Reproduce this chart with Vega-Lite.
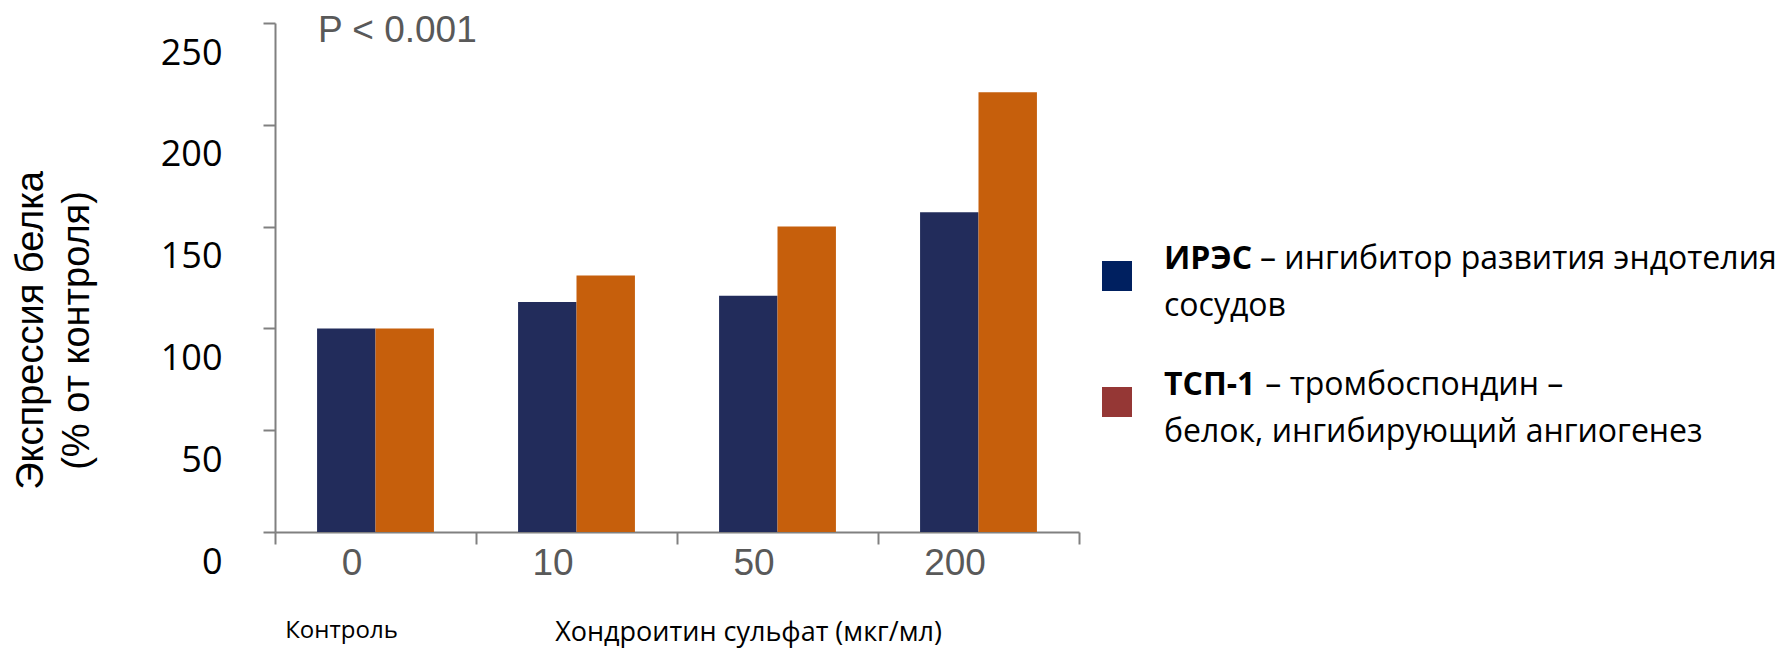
{
  "$schema": "https://vega.github.io/schema/vega-lite/v6.json",
  "width": 804,
  "height": 509,
  "autosize": {"type": "none"},
  "padding": {"left": 275, "top": 23, "right": 702, "bottom": 118},
  "background": "white",
  "config": {
    "view": {"stroke": null},
    "axis": {"grid": false},
    "font": "Liberation Sans",
    "legend": {"symbolBaseFillColor": "transparent", "symbolBaseStrokeColor": "transparent"},
    "style": {"guide-label": {"lineHeight": 47}}
  },
  "title": {
    "text": "P < 0.001",
    "anchor": "start",
    "frame": "group",
    "orient": "top",
    "font": "Liberation Sans",
    "fontSize": 37,
    "fontWeight": "normal",
    "color": "#595959",
    "baseline": "alphabetic",
    "offset": -57,
    "dx": 43
  },
  "data": {
    "values": [
      {"dose": "0", "series": "ИРЭС", "desc": "– ингибитор развития эндотелия|сосудов", "value": 100},
      {"dose": "0", "series": "ТСП-1", "desc": "– тромбоспондин –|белок, ингибирующий ангиогенез", "value": 100},
      {"dose": "10", "series": "ИРЭС", "desc": "– ингибитор развития эндотелия|сосудов", "value": 113},
      {"dose": "10", "series": "ТСП-1", "desc": "– тромбоспондин –|белок, ингибирующий ангиогенез", "value": 126},
      {"dose": "50", "series": "ИРЭС", "desc": "– ингибитор развития эндотелия|сосудов", "value": 116},
      {"dose": "50", "series": "ТСП-1", "desc": "– тромбоспондин –|белок, ингибирующий ангиогенез", "value": 150},
      {"dose": "200", "series": "ИРЭС", "desc": "– ингибитор развития эндотелия|сосудов", "value": 157},
      {"dose": "200", "series": "ТСП-1", "desc": "– тромбоспондин –|белок, ингибирующий ангиогенез", "value": 216}
    ]
  },
  "resolve": {"scale": {"color": "independent"}},
  "layer": [
    {
      "mark": {"type": "bar"},
      "encoding": {
        "x": {
          "field": "dose",
          "type": "nominal",
          "sort": ["0", "10", "50", "200"],
          "scale": {"paddingInner": 0, "paddingOuter": 0},
          "axis": {
            "title": "Хондроитин сульфат (мкг/мл)",
            "titleFont": "Open Sans",
            "titleFontSize": 27,
            "titleFontWeight": "normal",
            "titleColor": "black",
            "titleX": 473,
            "titleY": 100,
            "titleBaseline": "middle",
            "titleAlign": "center",
            "labelFont": "Liberation Sans",
            "labelFontSize": 37,
            "labelColor": "#595959",
            "labelAngle": 0,
            "labelOffset": -24,
            "labelPadding": 1,
            "tickBand": "extent",
            "tickSize": 12,
            "tickWidth": 2,
            "tickColor": "#808080",
            "domainColor": "#808080",
            "domainWidth": 2
          }
        },
        "xOffset": {
          "field": "series",
          "type": "nominal",
          "sort": ["ИРЭС", "ТСП-1"],
          "scale": {"paddingInner": 0, "paddingOuter": 0.72}
        },
        "y": {
          "field": "value",
          "type": "quantitative",
          "scale": {"domain": [0, 250], "nice": false},
          "axis": {
            "title": ["Экспрессия белка", "(% от контроля)"],
            "titleFont": "Liberation Sans",
            "titleFontSize": 38,
            "titleFontWeight": "normal",
            "titleColor": "black",
            "titleAngle": -90,
            "titleX": -244,
            "titleY": 307,
            "titleBaseline": "middle",
            "titleAlign": "center",
            "titleLineHeight": 46,
            "values": [0, 50, 100, 150, 200, 250],
            "labelFont": "Open Sans",
            "labelFontSize": 36,
            "labelColor": "black",
            "labelOffset": 30,
            "labelPadding": 41,
            "labelFlush": false,
            "labelOverlap": false,
            "tickSize": 12,
            "tickWidth": 2,
            "tickColor": "#808080",
            "domainColor": "#808080",
            "domainWidth": 2
          }
        },
        "color": {
          "field": "series",
          "type": "nominal",
          "scale": {"domain": ["ИРЭС", "ТСП-1"], "range": ["#222C5B", "#C65F0C"]},
          "legend": null
        },
        "opacity": {
          "field": "desc",
          "type": "ordinal",
          "scale": {"domain": ["– ингибитор развития эндотелия|сосудов", "– тромбоспондин –|белок, ингибирующий ангиогенез"], "range": [1, 1]},
          "legend": {
            "title": null,
            "orient": "none",
            "legendX": 826,
            "legendY": 237,
            "direction": "vertical",
            "symbolType": "square",
            "symbolSize": 900,
            "symbolStrokeWidth": 0,
            "symbolOpacity": 0,
            "labelFont": "Open Sans",
            "labelFontSize": 32,
            "labelFontWeight": "normal",
            "labelColor": "black",
            "labelBaseline": "bottom",
            "labelOffset": 31,
            "labelLimit": 0,
            "rowPadding": 47,
            "padding": 0,
            "labelExpr": "[(indexof(datum.label, 'тромбо') >= 0 ? '\u200d\u2003\u2003\u2003\u2009' : '\u200d\u2003\u2003\u2003') + split(datum.label, '|')[0], split(datum.label, '|')[1]]"
          }
        }
      }
    },
    {
      "mark": {"type": "bar", "opacity": 0},
      "encoding": {
        "x": {"field": "dose", "type": "nominal", "sort": ["0", "10", "50", "200"]},
        "xOffset": {"field": "series", "type": "nominal", "sort": ["ИРЭС", "ТСП-1"]},
        "y": {"field": "value", "type": "quantitative"},
        "color": {
          "field": "series",
          "type": "nominal",
          "scale": {"domain": ["ИРЭС", "ТСП-1"], "range": ["#002060", "#953735"]},
          "legend": {
            "title": null,
            "orient": "none",
            "legendX": 826,
            "legendY": 237,
            "direction": "vertical",
            "symbolType": "square",
            "symbolSize": 900,
            "symbolStrokeWidth": 0,
            "symbolOpacity": 1,
            "labelFont": "Open Sans",
            "labelFontSize": 32,
            "labelFontWeight": "bold",
            "labelColor": "black",
            "labelBaseline": "bottom",
            "labelOffset": 31,
            "labelLimit": 0,
            "rowPadding": 47,
            "padding": 0,
            "labelExpr": "[datum.label, '']"
          }
        }
      }
    },
    {
      "data": {"values": [{"dose": "0", "note": "Контроль"}]},
      "mark": {"type": "text", "font": "Open Sans", "fontSize": 24, "color": "black", "dx": -34, "dy": 99, "baseline": "middle", "align": "center"},
      "encoding": {
        "x": {"field": "dose", "type": "nominal", "sort": ["0", "10", "50", "200"]},
        "y": {"datum": 0, "type": "quantitative"},
        "text": {"field": "note"}
      }
    }
  ]
}
